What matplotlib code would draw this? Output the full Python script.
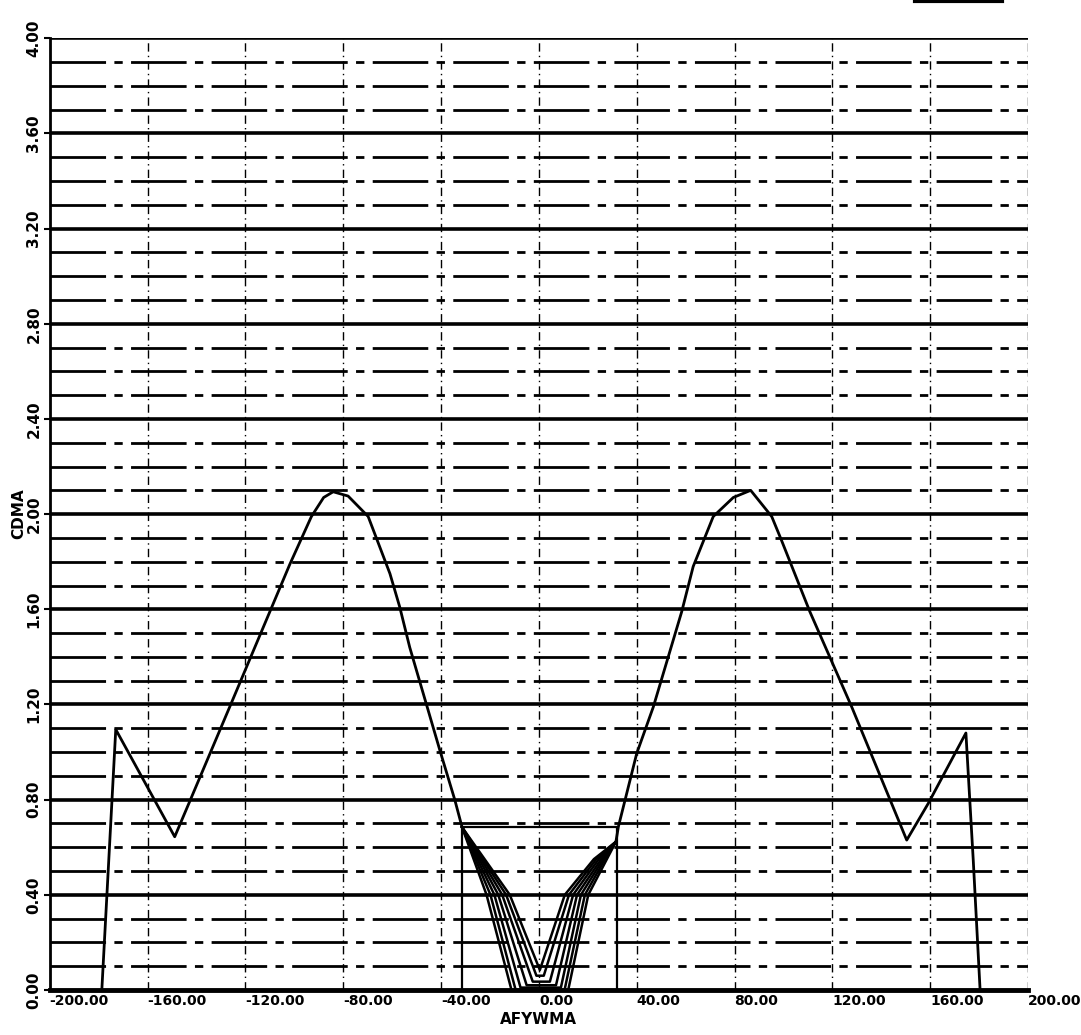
import matplotlib.pyplot as plt
from matplotlib.transforms import ScaledTranslation

# main curve, left and right of the central box
left_x = [-178.7, -173.0, -148.9, -142.7, -126.4, -110.0, -101.8, -93.0, -88.0,
          -84.1, -78.0, -69.8, -60.9, -56.9, -52.8, -40.5, -34.4, -31.4]
left_y = [0.0, 1.095, 0.644, 0.794, 1.19, 1.59, 1.79, 1.99, 2.07,
          2.094, 2.076, 1.99, 1.75, 1.61, 1.44, 1.008, 0.80, 0.684]
right_x = [31.5, 32.5, 40.0, 46.8, 58.4, 63.1, 71.3, 79.5, 86.6, 95.2,
           99.2, 110.8, 127.9, 150.4, 159.2, 174.6, 177.6, 180.4]
right_y = [0.623, 0.686, 0.994, 1.19, 1.59, 1.78, 1.99, 2.07, 2.10, 1.99,
           1.89, 1.59, 1.19, 0.63, 0.784, 1.08, 0.546, 0.0]

# box around the centre
box_x = [-31.4, -31.4, 31.8, 31.8]
box_y = [0.0, 0.684, 0.684, 0.0]

# family of curves inside the box (outer -> inner)
fam_x = [
    [-31.4, -21.4, -11.2, 12.0, 20.2, 27.8, 31.5],
    [-31.4, -19.8, -9.5, 10.5, 18.8, 27.0, 31.5],
    [-31.4, -18.2, -7.5, 9.0, 17.2, 26.3, 31.5],
    [-31.4, -16.6, -5.0, 7.0, 15.6, 25.5, 31.5],
    [-31.4, -15.0, -2.5, 4.5, 14.0, 24.5, 31.5],
    [-31.4, -13.4, -1.0, 2.0, 12.3, 23.5, 31.5],
    [-31.4, -11.9, 0.4, 0.4, 10.6, 22.5, 31.5],
]
fam_y = [
    [0.684, 0.40, 0.0, 0.0, 0.40, 0.55, 0.623],
    [0.684, 0.40, 0.0, 0.0, 0.40, 0.55, 0.623],
    [0.684, 0.40, 0.01, 0.01, 0.40, 0.55, 0.623],
    [0.684, 0.40, 0.02, 0.02, 0.40, 0.55, 0.623],
    [0.684, 0.40, 0.035, 0.035, 0.40, 0.55, 0.623],
    [0.684, 0.40, 0.06, 0.06, 0.40, 0.55, 0.623],
    [0.684, 0.40, 0.084, 0.084, 0.40, 0.55, 0.623],
]

x_ticks = [-200, -160, -120, -80, -40, 0, 40, 80, 120, 160, 200]
y_ticks = [0.0, 0.4, 0.8, 1.2, 1.6, 2.0, 2.4, 2.8, 3.2, 3.6, 4.0]
y_minor = [v / 10 for v in range(1, 40) if v % 4 != 0]

fig = plt.figure(figsize=(10.81, 10.35), dpi=100)
ax = fig.add_axes([0.046, 0.0435, 0.905, 0.9195])
ax.set_xlim(-200, 200)
ax.set_ylim(0, 4.0)

# grid
for yv in y_minor:
    ax.axhline(yv, color='black', lw=2.0, dashes=(20, 3, 3, 3), zorder=1)
for yv in y_ticks[1:]:
    ax.axhline(yv, color='black', lw=2.6, zorder=1)
for xv in x_ticks[1:-1]:
    ax.axvline(xv, color='black', lw=1.0, dashes=(6, 3, 1, 3), zorder=1)

ax.plot(left_x, left_y, color='black', lw=2.0, zorder=3)
ax.plot(right_x, right_y, color='black', lw=2.0, zorder=3)
ax.plot(box_x, box_y, color='black', lw=1.6, zorder=3)
for fx, fy in zip(fam_x, fam_y):
    ax.plot(fx, fy, color='black', lw=1.8, zorder=3)

for side in ['top', 'right']:
    ax.spines[side].set_visible(False)
ax.spines['left'].set_linewidth(2.0)
ax.spines['bottom'].set_linewidth(3.5)
ax.axvline(200, color='black', lw=1.0, dashes=(6, 3, 1, 3), zorder=1)

ax.set_xticks(x_ticks)
ax.set_xticklabels(['%.2f' % v for v in x_ticks], fontsize=10, fontweight='bold', ha='left')
for lab in ax.get_xticklabels():
    lab.set_transform(lab.get_transform() + ScaledTranslation(-9 / 100, 0, fig.dpi_scale_trans))
ax.set_yticks(y_ticks)
ax.set_yticklabels(['%.2f' % v for v in y_ticks], fontsize=11, fontweight='bold',
                   rotation=90, va='center')
for lab in ax.get_yticklabels():
    lab.set_transform(lab.get_transform() + ScaledTranslation(0, 10 / 100, fig.dpi_scale_trans))
ax.tick_params(axis='x', length=0, pad=3)
ax.tick_params(axis='y', length=4, width=1.5, pad=2)

ax.set_xlabel('AFYWMA', fontsize=11, fontweight='bold', labelpad=3)
ax.set_ylabel('CDMA', fontsize=11, fontweight='bold', labelpad=0)

# small bar at the top right
fig.add_artist(plt.Line2D([0.846, 0.927], [0.999, 0.999], color='black', lw=3,
                          transform=fig.transFigure))

fig.savefig('out.png', dpi=100)
